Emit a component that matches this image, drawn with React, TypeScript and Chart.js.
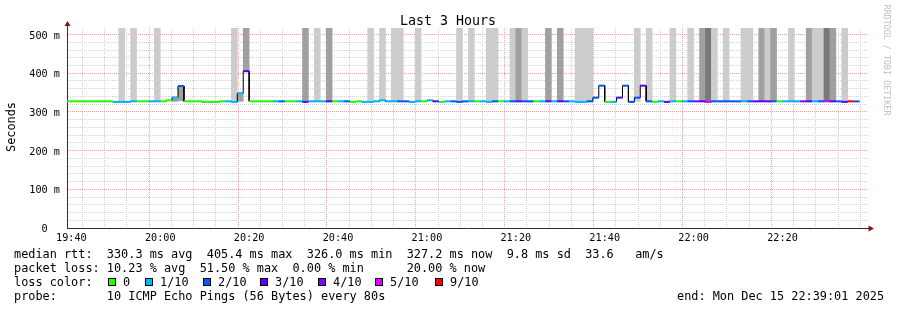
import React, { useEffect, useRef } from 'react';
import { Chart, registerables } from 'chart.js';

Chart.register(...registerables);

const FONT = '"DejaVu Sans Mono", "Liberation Mono", monospace';

// ---------- texts ----------
const TITLE = 'Last 3 Hours';
const Y_TITLE = 'Seconds';
const WATERMARK = 'RRDTOOL / TOBI OETIKER';
const STATS_RTT = 'median rtt:  330.3 ms avg  405.4 ms max  326.0 ms min  327.2 ms now  9.8 ms sd  33.6   am/s';
const STATS_LOSS = 'packet loss: 10.23 % avg  51.50 % max  0.00 % min      20.00 % now';
const LOSS_TITLE = 'loss color:';
const PROBE_TEXT = 'probe:       10 ICMP Echo Pings (56 Bytes) every 80s';
const END_TEXT = 'end: Mon Dec 15 22:39:01 2025';

// ---------- time axis (minutes of the day) ----------
const VIEW_START = 19 * 60 + 39 + 1 / 60; // 19:39:01
const VIEW_END = 22 * 60 + 39 + 1 / 60; // 22:39:01
const FIRST_SAMPLE_START = 19 * 60 + 38 + 40 / 60; // 19:38:40 (partly visible)
const STEP = 80 / 60; // one probe round every 80 s
const FIRST_X_TICK = 19 * 60 + 40;
const Y_MAX = 517; // ms

const xTickLabels = ['19:40', '20:00', '20:20', '20:40', '21:00', '21:20', '21:40', '22:00', '22:20'];
const yTickLabels = ['0', '100 m', '200 m', '300 m', '400 m', '500 m'];

// ---------- data: one entry per 80 s sample ----------
// median round trip time (ms)
const medianMs = [
  327.4, 327.4, 327.4, 327.4, 327.4, 327.4, 327.4, 327.4, 326.1, 326.1,
  326.1, 327.4, 327.4, 327.4, 327.4, 327.4, 327.4, 329.9, 337.5, 367.0,
  327.4, 327.4, 327.4, 326.1, 326.1, 326.1, 327.4, 327.4, 326.1, 348.5,
  405.4, 327.4, 327.4, 327.4, 327.4, 327.4, 327.4, 327.4, 327.4, 327.4,
  326.1, 327.4, 327.4, 327.4, 327.4, 327.4, 327.4, 327.4, 326.1, 327.4,
  326.1, 326.1, 327.4, 329.9, 327.4, 327.4, 327.4, 327.4, 326.1, 327.4,
  327.4, 329.9, 327.4, 326.1, 327.4, 327.4, 326.1, 327.4, 327.4, 327.4,
  327.4, 326.1, 327.4, 327.4, 327.4, 327.4, 327.4, 327.4, 327.4, 327.4,
  327.4, 327.4, 327.4, 327.4, 327.4, 327.4, 326.1, 326.1, 327.4, 337.0,
  368.0, 326.1, 326.1, 337.0, 368.0, 326.1, 337.0, 368.0, 327.4, 326.1,
  327.4, 326.1, 327.4, 327.4, 327.4, 327.4, 327.4, 327.4, 326.1, 327.4,
  327.4, 327.4, 327.4, 327.4, 327.4, 327.4, 327.4, 327.4, 327.4, 327.4,
  327.4, 327.4, 327.4, 327.4, 327.4, 327.4, 327.4, 327.4, 327.4, 327.4,
  327.4, 326.1, 327.4, 327.2,
];

// lost pings out of 10
const lossCount = [
  0, 0, 0, 0, 0, 0, 0, 0, 1, 1,
  1, 1, 0, 0, 1, 1, 0, 0, 1, 2,
  0, 0, 0, 0, 0, 0, 0, 1, 1, 1,
  3, 0, 0, 0, 0, 1, 2, 0, 0, 1,
  3, 1, 1, 1, 3, 0, 1, 2, 0, 0,
  1, 1, 1, 1, 1, 1, 2, 2, 1, 1,
  0, 1, 3, 0, 1, 2, 2, 2, 1, 0,
  1, 1, 2, 0, 1, 2, 3, 2, 2, 0,
  1, 3, 1, 3, 2, 1, 1, 1, 2, 2,
  2, 0, 1, 3, 2, 2, 2, 3, 2, 0,
  1, 3, 1, 0, 1, 2, 4, 3, 5, 2,
  2, 2, 2, 2, 1, 2, 3, 3, 3, 2,
  0, 1, 1, 1, 4, 3, 1, 2, 5, 3,
  2, 3, 9, 2,
];

// smoke of very slow / lost pings reaching the top (0 none, 1 light, 2 medium, 3 dark)
const topSmokeLevel = [
  0, 0, 0, 0, 0, 0, 0, 0, 0, 1,
  0, 1, 0, 0, 0, 1, 0, 0, 0, 0,
  0, 0, 0, 0, 0, 0, 0, 0, 1, 0,
  2, 0, 0, 0, 0, 0, 0, 0, 0, 0,
  2, 0, 1, 0, 2, 0, 0, 0, 0, 0,
  0, 1, 0, 1, 0, 1, 1, 0, 0, 1,
  0, 0, 0, 0, 0, 0, 1, 0, 1, 0,
  0, 1, 1, 0, 0, 1, 2, 1, 0, 0,
  0, 2, 0, 2, 0, 0, 1, 1, 1, 0,
  0, 0, 0, 0, 0, 0, 1, 0, 1, 0,
  0, 0, 1, 0, 0, 1, 0, 2, 3, 1,
  0, 1, 0, 0, 1, 1, 0, 2, 1, 2,
  0, 0, 1, 0, 0, 2, 1, 1, 3, 2,
  0, 1, 0, 0,
];

// smoke spread around the median at a few samples
const spreadSample = [18, 19, 29, 96];
const spreadLowMs = [327.4, 329.0, 327.4, 327.4];
const spreadHighMs = [337.5, 367.0, 348.5, 337.0];
const spreadLevel = [2, 2, 2, 1];

// legend of loss colours
const lossLegendLabels = ['0', '1/10', '2/10', '3/10', '4/10', '5/10', '9/10'];
const lossLegendCounts = [0, 1, 2, 3, 4, 5, 9];

// ---------- styles ----------
const SMOKE_COLORS = ['rgba(0,0,0,0)', '#cccccc', '#a0a0a0', '#787878'];
const MINOR_GRID = '#d2d2d2';
const MAJOR_GRID = '#f0a4a4';
const AXIS_COLOR = '#303030';
const ARROW_COLOR = '#8b1010';

function lossColor(n: number): string {
  if (n >= 9) return '#ff0000';
  if (n >= 5) return '#dd00ff';
  if (n === 4) return '#7e00ff';
  if (n === 3) return '#5e00ff';
  if (n === 2) return '#0059ff';
  if (n === 1) return '#00b8ff';
  return '#26ff00';
}

const sampleStart = (i: number) => FIRST_SAMPLE_START + i * STEP;

const axisArrows = {
  id: 'axisArrows',
  afterDraw(chart: any) {
    const { ctx, chartArea } = chart;
    const { left, right, top, bottom } = chartArea;
    ctx.save();
    ctx.strokeStyle = AXIS_COLOR;
    ctx.lineWidth = 1;
    ctx.beginPath();
    ctx.moveTo(left + 0.5, top + 1);
    ctx.lineTo(left + 0.5, top - 3);
    ctx.moveTo(right - 1, bottom + 0.5);
    ctx.lineTo(right + 2, bottom + 0.5);
    ctx.stroke();
    ctx.fillStyle = ARROW_COLOR;
    ctx.beginPath();
    ctx.moveTo(left + 0.5, top - 7);
    ctx.lineTo(left - 2.5, top - 2);
    ctx.lineTo(left + 3.5, top - 2);
    ctx.closePath();
    ctx.fill();
    ctx.beginPath();
    ctx.moveTo(right + 7, bottom + 0.5);
    ctx.lineTo(right + 1.5, bottom - 2.5);
    ctx.lineTo(right + 1.5, bottom + 3.5);
    ctx.closePath();
    ctx.fill();
    ctx.restore();
  },
};

export default function App() {
  const ref = useRef<HTMLCanvasElement>(null);

  useEffect(() => {
    const canvas = ref.current;
    if (!canvas) return;

    const medianPoints: { x: number; y: number }[] = [];
    medianMs.forEach((m, i) => {
      medianPoints.push({ x: sampleStart(i), y: m }, { x: sampleStart(i + 1), y: m });
    });
    const topSmoke = medianMs.map((m, i) => ({
      x: sampleStart(i) + STEP / 2,
      y: topSmokeLevel[i] ? [m, Y_MAX] : null,
    }));
    const spreadSmoke = medianMs.map((_, i) => {
      const j = spreadSample.indexOf(i);
      return { x: sampleStart(i) + STEP / 2, y: j >= 0 ? [spreadLowMs[j], spreadHighMs[j]] : null };
    });

    const chart = new Chart(canvas, {
      type: 'line',
      data: {
        datasets: [
          {
            type: 'bar',
            data: topSmoke as any,
            backgroundColor: (c: any) =>
              c.type === 'data' ? SMOKE_COLORS[topSmokeLevel[c.dataIndex]] : 'rgba(0,0,0,0)',
            borderWidth: 0,
            grouped: false,
            barPercentage: 1,
            categoryPercentage: 1,
            order: 4,
          } as any,
          {
            type: 'bar',
            data: spreadSmoke as any,
            backgroundColor: (c: any) => {
              if (c.type !== 'data') return 'rgba(0,0,0,0)';
              const j = spreadSample.indexOf(c.dataIndex);
              return j >= 0 ? SMOKE_COLORS[spreadLevel[j]] : 'rgba(0,0,0,0)';
            },
            borderWidth: 0,
            grouped: false,
            barPercentage: 1,
            categoryPercentage: 1,
            order: 3,
          } as any,
          {
            type: 'line',
            data: medianPoints,
            borderColor: '#000000',
            borderWidth: 1,
            pointRadius: 0,
            pointHoverRadius: 0,
            tension: 0,
            fill: false,
            order: 2,
          },
          {
            type: 'line',
            data: medianPoints,
            borderColor: '#26ff00',
            borderWidth: 2,
            pointRadius: 0,
            pointHoverRadius: 0,
            tension: 0,
            fill: false,
            order: 1,
            segment: {
              borderColor: (ctx: any) =>
                ctx.p0.parsed.x === ctx.p1.parsed.x
                  ? 'rgba(0,0,0,0)'
                  : lossColor(lossCount[Math.floor(ctx.p0DataIndex / 2)]),
            },
          },
        ],
      },
      options: {
        responsive: false,
        animation: false,
        devicePixelRatio: 1,
        events: [],
        layout: { padding: { left: 0, top: 28, right: 30, bottom: 0 } },
        plugins: {
          legend: { display: false },
          tooltip: { enabled: false },
          title: { display: false },
        },
        scales: {
          x: {
            type: 'linear',
            min: VIEW_START,
            max: VIEW_END,
            offset: false,
            afterBuildTicks: (s: any) => {
              const t: { value: number }[] = [];
              for (let v = FIRST_X_TICK; v <= VIEW_END; v += 5) t.push({ value: v });
              s.ticks = t;
            },
            afterFit: (s: any) => {
              s.height = 82;
            },
            grid: {
              color: (c: any) =>
                c.tick && (c.tick.value - FIRST_X_TICK) % 20 === 0 ? MAJOR_GRID : MINOR_GRID,
              lineWidth: 1,
              drawTicks: false,
            },
            border: { display: true, color: AXIS_COLOR, width: 1, dash: [1, 1] },
            ticks: {
              autoSkip: false,
              maxRotation: 0,
              minRotation: 0,
              padding: 4,
              color: '#000000',
              font: { family: FONT, size: 10.2 },
              callback: (v: any) => {
                const d = Number(v) - FIRST_X_TICK;
                return d % 20 === 0 ? xTickLabels[d / 20] ?? '' : '';
              },
            },
          },
          y: {
            type: 'linear',
            min: 0,
            max: Y_MAX,
            afterBuildTicks: (s: any) => {
              const t: { value: number }[] = [];
              for (let v = 0; v <= 500; v += 20) t.push({ value: v });
              s.ticks = t;
            },
            afterFit: (s: any) => {
              s.width = 67;
            },
            grid: {
              color: (c: any) => (c.tick && c.tick.value % 100 === 0 ? MAJOR_GRID : MINOR_GRID),
              lineWidth: 1,
              drawTicks: false,
            },
            border: { display: true, color: AXIS_COLOR, width: 1, dash: [1, 1] },
            ticks: {
              autoSkip: false,
              padding: 7,
              labelOffset: 1.5,
              color: '#000000',
              font: { family: FONT, size: 10.2 },
              callback: (v: any) => {
                const n = Number(v);
                if (n % 100 !== 0) return '';
                const lbl = yTickLabels[n / 100] ?? '';
                return lbl.length < 5 ? lbl + '  ' : lbl;
              },
            },
          },
        },
      } as any,
      plugins: [axisArrows],
    });
    return () => chart.destroy();
  }, []);

  const legendFont: React.CSSProperties = {
    position: 'absolute',
    fontFamily: FONT,
    fontSize: '11.86px',
    lineHeight: '14px',
    whiteSpace: 'pre',
    color: '#000',
  };
  const boxLeft = [108, 145, 203, 260, 318, 375, 435];

  return (
    <div
      style={{
        position: 'fixed',
        left: 0,
        top: 0,
        width: 897,
        height: 310,
        background: '#ffffff',
        overflow: 'hidden',
      }}
    >
      <canvas
        ref={ref}
        width={897}
        height={310}
        style={{ position: 'absolute', left: 0, top: 0, width: 897, height: 310 }}
      />
      <div
        style={{
          ...legendFont,
          left: 348,
          top: 12.5,
          width: 200,
          textAlign: 'center',
          fontSize: '13.3px',
          lineHeight: '16px',
        }}
      >
        {TITLE}
      </div>
      <div
        style={{
          ...legendFont,
          left: -39,
          top: 120,
          width: 100,
          textAlign: 'center',
          transform: 'rotate(-90deg)',
        }}
      >
        {Y_TITLE}
      </div>
      <div
        style={{
          ...legendFont,
          left: 817,
          top: 55,
          width: 140,
          textAlign: 'center',
          fontSize: '8.4px',
          lineHeight: '10px',
          color: '#c0c0c0',
          transform: 'rotate(90deg)',
        }}
      >
        {WATERMARK}
      </div>
      <div style={{ ...legendFont, left: 14, top: 247 }}>{STATS_RTT}</div>
      <div style={{ ...legendFont, left: 14, top: 261 }}>{STATS_LOSS}</div>
      <div style={{ ...legendFont, left: 14, top: 275 }}>{LOSS_TITLE}</div>
      {lossLegendLabels.map((lbl, i) => (
        <React.Fragment key={lbl}>
          <div
            style={{
              position: 'absolute',
              left: boxLeft[i],
              top: 278,
              width: 8,
              height: 8,
              boxSizing: 'border-box',
              border: '1px solid #000',
              background: lossColor(lossLegendCounts[i]),
            }}
          />
          <div style={{ ...legendFont, left: boxLeft[i] + 15, top: 275 }}>{lbl}</div>
        </React.Fragment>
      ))}
      <div style={{ ...legendFont, left: 14, top: 289 }}>{PROBE_TEXT}</div>
      <div style={{ ...legendFont, left: 677, top: 289 }}>{END_TEXT}</div>
    </div>
  );
}
